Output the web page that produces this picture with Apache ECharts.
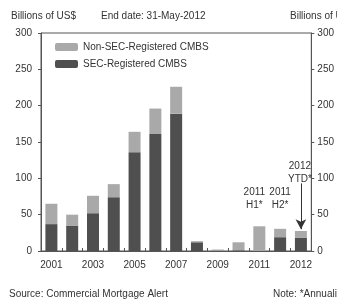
<!DOCTYPE html>
<html><head><meta charset="utf-8">
<script src="https://cdn.jsdelivr.net/npm/echarts@6/dist/echarts.min.js"></script>
<style>html,body{margin:0;padding:0;background:#fff}#c{width:337px;height:299px}</style>
</head><body><div id="c"></div>
<script>
const categories = ['2001','2002','2003','2004','2005','2006','2007','2008','2009','2010','2011 H1','2011 H2','2012 YTD'];
const tickLabels = ['2001','','2003','','2005','','2007','','2009','','2011','','2012'];
const secRegistered = [37, 35, 52, 74, 136, 161, 189, 12, 0.5, 1, 0, 19, 18];
const nonSecRegistered = [28, 15, 24, 18, 28, 35, 37, 1.5, 1.5, 11, 34, 11.5, 9.5];
const yTicks = [0, 50, 100, 150, 200, 250, 300];
const annotations = [
  {cat:'2011 H1', y:72, text:'2011\nH1*', dx:-5},
  {cat:'2011 H2', y:72, text:'2011\nH2*', dx:0},
  {cat:'2012 YTD', y:108, text:'2012\nYTD*', dx:-1}
];
const arrow = {cat:'2012 YTD', from:93, to:30};

const font = 'Liberation Sans, Arial, sans-serif';
const narrow = '"Liberation Sans Narrow", "Arial Narrow", Liberation Sans, sans-serif';
const chart = echarts.init(document.getElementById('c'), null, {renderer:'canvas'});
const axisLine = {show:true, lineStyle:{color:'#555', width:1}};
chart.setOption({
  animation:false,
  backgroundColor:'#fff',
  textStyle:{fontFamily:font},
  grid:{left:41, right:21, top:33, bottom:48, show:true, borderColor:'#555', borderWidth:1},
  legend:{
    left:50, top:37, orient:'vertical', itemWidth:23, itemHeight:8, itemGap:7,
    textStyle:{fontSize:10, color:'#333', fontFamily:font},
    data:['Non-SEC-Registered CMBS','SEC-Registered CMBS']
  },
  title:[
    {text:'Billions of US$', left:6, top:6, textStyle:{fontSize:10, fontWeight:'normal', color:'#333', fontFamily:font}},
    {text:'End date: 31-May-2012', left:96, top:6, textStyle:{fontSize:10, fontWeight:'normal', color:'#333', fontFamily:font}},
    {text:'Billions of US$', left:285, top:6, textStyle:{fontSize:10, fontWeight:'normal', color:'#333', fontFamily:font}},
    {text:'Source: Commercial Mortgage Alert', left:4, top:284, textStyle:{fontSize:10, fontWeight:'normal', color:'#333', fontFamily:font}},
    {text:'Note: *Annualized', left:268, top:284, textStyle:{fontSize:10, fontWeight:'normal', color:'#333', fontFamily:font}}
  ],
  xAxis:{
    type:'category', data:categories, boundaryGap:true,
    axisLine:axisLine,
    axisTick:{show:true, inside:true, length:3, lineStyle:{color:'#555'}},
    axisLabel:{interval:0, margin:9, fontSize:10, color:'#333', fontFamily:font,
      formatter:(v,i)=>tickLabels[i]}
  },
  yAxis:[
    {type:'value', min:yTicks[0], max:yTicks[yTicks.length-1], interval:50, position:'left',
     axisLine:axisLine, splitLine:{show:false},
     axisTick:{show:true, length:3, lineStyle:{color:'#555'}},
     axisLabel:{fontSize:10, color:'#333', margin:9, fontFamily:font}},
    {type:'value', min:yTicks[0], max:yTicks[yTicks.length-1], interval:50, position:'right',
     axisLine:axisLine, splitLine:{show:false},
     axisTick:{show:true, length:3, lineStyle:{color:'#555'}},
     axisLabel:{fontSize:10, color:'#333', margin:6, fontFamily:font}}
  ],
  series:[
    {name:'SEC-Registered CMBS', type:'bar', stack:'a', data:secRegistered, barWidth:12,
     itemStyle:{color:'#4f4f4f'},
     markPoint:{symbol:'circle', symbolSize:1, silent:true,
       itemStyle:{color:'rgba(0,0,0,0)'},
       label:{show:true, position:'inside', color:'#333', fontSize:10, fontFamily:narrow, lineHeight:13, align:'center',
         formatter:p=>p.name},
       data:annotations.map(a=>({name:a.text, coord:[a.cat, a.y], label:{offset:[a.dx,0]}}))},
     markLine:{silent:true, symbol:['none','arrow'], symbolSize:[8,10],
       lineStyle:{color:'#333', width:1, type:'solid'}, label:{show:false},
       data:[[{coord:[arrow.cat, arrow.from]},{coord:[arrow.cat, arrow.to]}]]}
    },
    {name:'Non-SEC-Registered CMBS', type:'bar', stack:'a', data:nonSecRegistered, barWidth:12,
     itemStyle:{color:'#a9a9a9'}}
  ]
});
</script></body></html>
